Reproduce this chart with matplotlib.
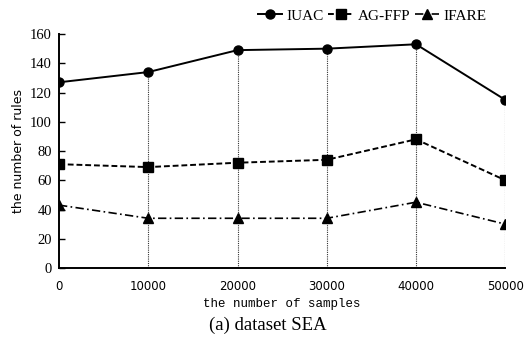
import matplotlib
matplotlib.use("Agg")
import matplotlib.pyplot as plt

samples = [0, 10000, 20000, 30000, 40000, 50000]
iuac = [127, 134, 149, 150, 153, 115]
agffp = [71, 69, 72, 74, 88, 60]
ifare = [43, 34, 34, 34, 45, 30]
yticks = [0, 20, 40, 60, 80, 100, 120, 140, 160]

fig = plt.figure(figsize=(5.25, 3.51), dpi=100)
ax = fig.add_axes([0.1124, 0.2365, 0.850, 0.6665])

serif = "Liberation Serif"

# drop lines
ax.vlines(samples[1:], 0, iuac[1:], colors="#333333", linestyles=(0, (1, 1)), linewidth=0.8, zorder=1)

l1, = ax.plot(samples, iuac, color="black", linestyle="-", linewidth=1.4, marker="o", markersize=6.5, label="IUAC", zorder=3)
l2, = ax.plot(samples, agffp, color="black", linestyle=(0, (3, 1.5)), linewidth=1.4, marker="s", markersize=6.5, label="AG-FFP", zorder=3)
l3, = ax.plot(samples, ifare, color="black", linestyle=(0, (5, 2, 1, 2)), linewidth=1.2, marker="^", markersize=6.5, label="IFARE", zorder=3)

ax.set_xlim(0, 50000)
ax.set_ylim(0, 160)
ax.set_xticks(samples)
ax.set_xticklabels([str(s) for s in samples], fontsize=8.5, family="DejaVu Sans")
ax.set_yticks(yticks)
ax.set_yticklabels([str(v) for v in yticks], fontsize=10.5, family=serif)
ax.tick_params(axis="y", direction="in", length=4, width=1, pad=5)
ax.tick_params(axis="x", length=0, pad=9)
for s in ["top", "right"]:
    ax.spines[s].set_visible(False)
ax.spines["left"].set_linewidth(1.4)
ax.spines["bottom"].set_linewidth(1.4)

ax.set_xlabel("the number of samples", fontsize=9, family="Liberation Mono", labelpad=3)
ax.set_ylabel("the number of rules", fontsize=9, family="DejaVu Sans", labelpad=4)

fig.legend(handles=[l1, l2, l3], loc="center", bbox_to_anchor=(0.709, 0.955), ncol=3, frameon=False,
           prop={"family": serif, "size": 11}, handlelength=1.6, handletextpad=0.3, columnspacing=0.3,
           borderpad=0, borderaxespad=0)

fig.text(0.511, 0.072, "(a) dataset SEA", ha="center", va="center", fontsize=13.5, family=serif)

fig.savefig("out.png", dpi=100)
